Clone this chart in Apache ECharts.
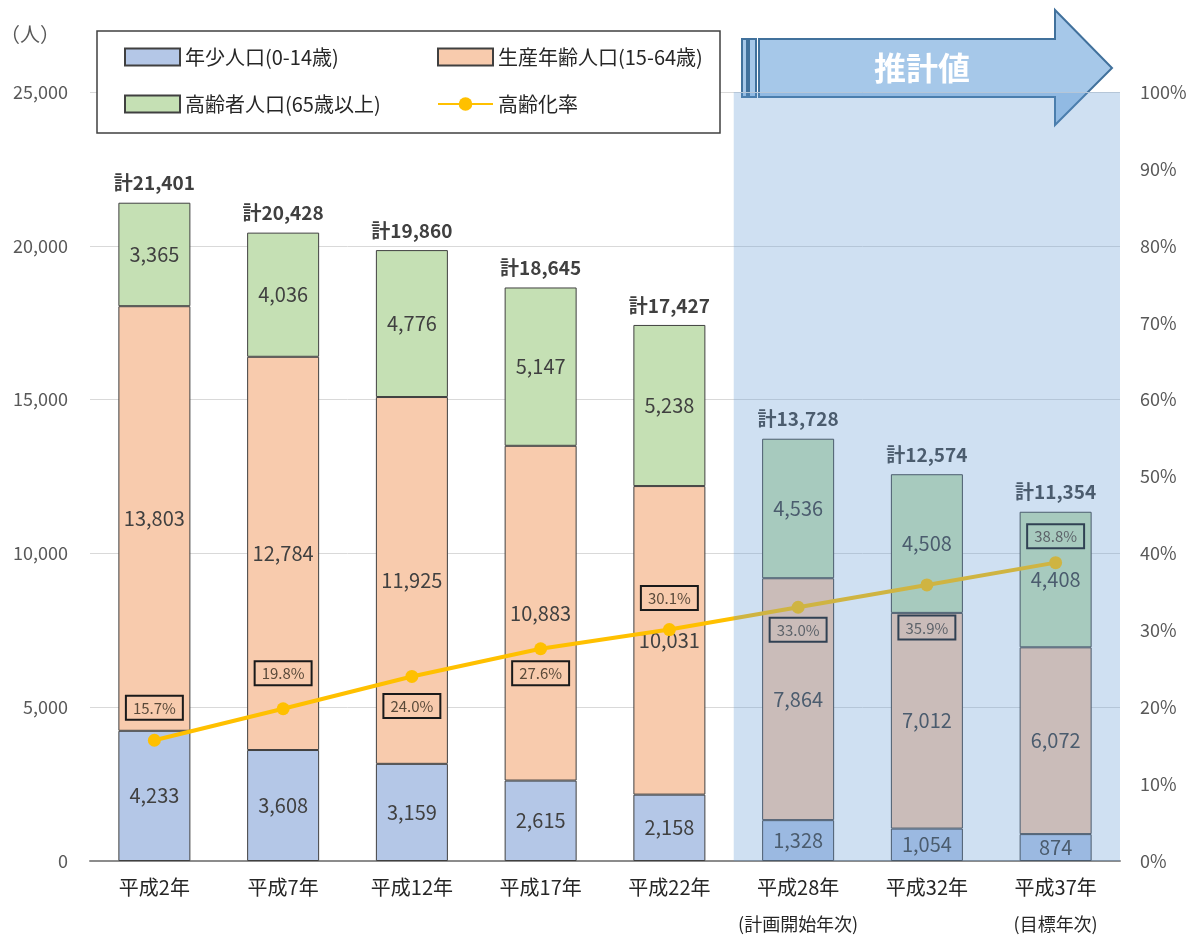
<!DOCTYPE html>
<html>
<head>
<meta charset="utf-8">
<script src="https://cdn.jsdelivr.net/npm/echarts@6/dist/echarts.min.js"></script>
<style>
  html, body { margin: 0; padding: 0; background: #fff; }
  #chart { width: 1198px; height: 935px; }
</style>
</head>
<body>
<div id="chart"></div>
<script>
// data
const years = ['平成2年', '平成7年', '平成12年', '平成17年', '平成22年', '平成28年', '平成32年', '平成37年']
const yearNotes = ['', '', '', '', '', '(計画開始年次)', '', '(目標年次)']
const young = [4233, 3608, 3159, 2615, 2158, 1328, 1054, 874]
const working = [13803, 12784, 11925, 10883, 10031, 7864, 7012, 6072]
const elderly = [3365, 4036, 4776, 5147, 5238, 4536, 4508, 4408]
const totals = [21401, 20428, 19860, 18645, 17427, 13728, 12574, 11354]
const agingRate = [15.7, 19.8, 24.0, 27.6, 30.1, 33.0, 35.9, 38.8]
const leftTicks = [0, 25000, 5000]
const rightTicks = [0, 100, 10]

// where each % box sits relative to its point
const rateLabelSide = ['top', 'top', 'bottom', 'bottom', 'top', 'bottom', 'bottom', 'top']
const rateLabelGap = [14, 17, 11, 6, 13, 4, 24, 8]

const FONT = '"Noto Sans CJK JP", "Noto Sans", sans-serif'
const comma = v => String(v).replace(/\B(?=(\d{3})+(?!\d))/g, ',')

const names = {
  young: '年少人口(0-14歳)',
  working: '生産年齢人口(15-64歳)',
  elderly: '高齢者人口(65歳以上)',
  rate: '高齢化率'
}

const barLabel = {
  show: true,
  position: 'inside',
  color: '#404040',
  fontSize: 20,
  fontFamily: FONT,
  formatter: p => comma(p.value)
}
const barBase = {
  type: 'bar',
  stack: 'pop',
  barWidth: 72,
  label: barLabel
}

let myChart = echarts.init(document.getElementById('chart'))
myChart.setOption({
  animation: false,
  textStyle: { fontFamily: FONT },
  grid: { left: 90, right: 78, top: 92, bottom: 74, containLabel: false, outerBoundsMode: 'none' },
  legend: [
    {
      left: 119,
      top: 42,
      orient: 'vertical',
      itemWidth: 55,
      itemHeight: 17,
      itemGap: 27,
      textStyle: { fontSize: 20, color: '#262626', fontFamily: FONT },
      data: [{ name: names.young, icon: 'rect' }, { name: names.elderly, icon: 'rect' }]
    },
    {
      left: 432,
      top: 42,
      orient: 'vertical',
      itemWidth: 55,
      itemHeight: 17,
      itemGap: 27,
      textStyle: { fontSize: 20, color: '#262626', fontFamily: FONT },
      data: [{ name: names.working, icon: 'rect' }, { name: names.rate }]
    }
  ],
  xAxis: [
    {
      type: 'category',
      data: years,
      axisTick: { show: false },
      axisLine: { lineStyle: { color: '#8c8c8c', width: 2 } },
      axisLabel: {
        interval: 0,
        color: '#262626',
        fontSize: 20,
        lineHeight: 37,
        margin: 8,
        formatter: (v, i) => yearNotes[i] ? v + '\n{note|' + yearNotes[i] + '}' : v,
        rich: { note: { fontSize: 18, color: '#262626', lineHeight: 37 } }
      }
    },
    // hidden value axis, only used to place the forecast shading
    { type: 'value', min: 0, max: years.length, show: false }
  ],
  yAxis: [
    {
      type: 'value',
      min: leftTicks[0],
      max: leftTicks[1],
      interval: leftTicks[2],
      name: '（人）',
      nameLocation: 'end',
      nameGap: 48,
      nameTextStyle: { fontSize: 20, color: '#595959', align: 'right', padding: [0, 30, 0, 0] },
      axisLine: { show: false },
      axisTick: { show: false },
      axisLabel: { color: '#595959', fontSize: 18, margin: 22, formatter: v => comma(v) },
      splitLine: { lineStyle: { color: '#d9d9d9', width: 1 } }
    },
    {
      type: 'value',
      min: rightTicks[0],
      max: rightTicks[1],
      interval: rightTicks[2],
      axisLine: { show: false },
      axisTick: { show: false },
      axisLabel: { color: '#595959', fontSize: 18, margin: 20, formatter: '{value}%' },
      splitLine: { show: false }
    }
  ],
  series: [
    {
      ...barBase,
      name: names.young,
      data: young,
      itemStyle: { color: '#b4c7e7', borderColor: '#404040', borderWidth: 1 }
    },
    {
      ...barBase,
      name: names.working,
      data: working,
      itemStyle: { color: '#f8cbad', borderColor: '#404040', borderWidth: 1 }
    },
    {
      ...barBase,
      name: names.elderly,
      data: elderly,
      itemStyle: { color: '#c5e0b4', borderColor: '#404040', borderWidth: 1 }
    },
    {
      // zero-height bar on the stack, carries the total label
      type: 'bar',
      stack: 'pop',
      barWidth: 72,
      name: '計',
      data: totals.map(() => 0),
      itemStyle: { color: 'transparent', borderWidth: 0 },
      label: {
        show: true,
        position: 'top',
        distance: 10,
        color: '#404040',
        fontSize: 19,
        fontWeight: 'bold',
        formatter: p => '計' + comma(totals[p.dataIndex])
      }
    },
    {
      type: 'line',
      name: names.rate,
      yAxisIndex: 1,
      z: 5,
      data: agingRate.map((v, i) => ({
        value: v,
        label: { position: rateLabelSide[i], distance: rateLabelGap[i] }
      })),
      symbol: 'circle',
      symbolSize: 13,
      lineStyle: { color: '#ffc000', width: 4 },
      itemStyle: { color: '#ffc000' },
      label: {
        show: true,
        color: '#5a4a3a',
        fontSize: 15,
        borderColor: '#1a1a1a',
        borderWidth: 2,
        padding: [5, 7, 4, 7],
        formatter: p => p.value.toFixed(1) + '%'
      }
    },
    {
      // forecast shading over the last three years
      type: 'line',
      name: '推計値',
      xAxisIndex: 1,
      yAxisIndex: 0,
      z: 10,
      data: [],
      markArea: {
        silent: true,
        z: 10,
        itemStyle: { color: 'rgba(100,155,213,0.31)' },
        data: [[{ coord: [5, leftTicks[1]] }, { coord: [years.length, 0] }]]
      }
    }
  ],
  graphic: [
    {
      type: 'rect',
      z: 3,
      shape: { x: 97, y: 31, width: 623, height: 102 },
      style: { fill: '#fff', stroke: '#404040', lineWidth: 1.5 }
    },
    {
      type: 'group',
      z: 100,
      children: [
        { type: 'rect', shape: { x: 742, y: 39, width: 5, height: 58 }, style: { fill: '#a6c8e9', stroke: '#41719c', lineWidth: 2 } },
        { type: 'rect', shape: { x: 749, y: 39, width: 7, height: 58 }, style: { fill: '#a6c8e9', stroke: '#41719c', lineWidth: 2 } },
        {
          type: 'polygon',
          shape: { points: [[759, 39], [1055, 39], [1055, 10], [1112, 68], [1055, 125], [1055, 97], [759, 97]] },
          style: { fill: '#a6c8e9', stroke: '#41719c', lineWidth: 2 }
        },
        {
          type: 'text',
          x: 922,
          y: 68,
          style: { text: '推計値', fill: '#fff', fontSize: 32, fontWeight: 'bold', fontFamily: FONT, align: 'center', verticalAlign: 'middle' }
        }
      ]
    }
  ]
})
</script>
</body>
</html>
